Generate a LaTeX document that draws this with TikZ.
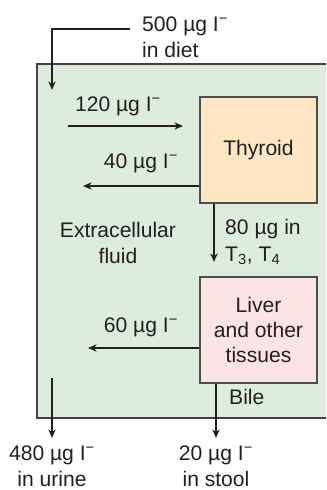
\documentclass[tikz,border=0pt]{standalone}
\usepackage{fontspec}
\setmainfont{Liberation Sans}
\usetikzlibrary{arrows.meta,positioning}
\definecolor{ink}{RGB}{35,31,32}
\definecolor{ecfgreen}{RGB}{221,237,221}
\definecolor{thyorange}{RGB}{253,230,193}
\definecolor{livpink}{RGB}{252,228,228}
\newcommand{\ugI}{µg I\textsuperscript{−}}
\tikzset{
  >={Stealth[length=2.6mm, width=2.2mm]},
  every node/.style={font=\fontsize{18}{22.5}\selectfont, text=ink},
  organ/.style={draw=ink!80, line width=1pt, minimum width=3.51cm, minimum height=3.18cm, align=center, inner sep=0pt},
  lab/.style={align=center, inner sep=0pt},
  labl/.style={align=left, anchor=west, inner sep=0pt},
  flow/.style={->, draw=ink, line width=0.9pt},
}

\begin{document}
\begin{tikzpicture}[x=0.03cm, y=-0.03cm]
\useasboundingbox (0,0) rectangle (326,490);

% ---------------------------------------------------------------- extracellular compartment
\fill[ecfgreen] (37,64) rectangle (326,418);
\draw[ink!85, line width=1.1pt] (326,64) -- (37,64) -- (37,418) -- (326,418);
\node[lab] (ecf) at (118,243) {Extracellular\\fluid};

% ---------------------------------------------------------------- organs
\node[organ, fill=thyorange] (thy) at (258.5,150) {Thyroid};
\node[organ, fill=livpink] (liv) at (258.5,330) {Liver\\[-1.5pt]and other\\[-1.5pt]tissues};

% ---------------------------------------------------------------- intake
\node[labl] (diet) at (142,37) {500 \ugI\\in diet};
\coordinate (dietin) at (52,90);
\draw[flow] (130,29) -| (dietin);

% ---------------------------------------------------------------- thyroid exchange
\node[lab] (l120) at (118,106) {120 \ugI};
\coordinate (s120) at (68,126);
\coordinate (e120) at (183,126);
\draw[flow] (s120) -- (e120);

\node[lab] (l40) at (141,163) {40 \ugI};
\coordinate (o40) at (83,186);
\draw[flow] (thy.west |- o40) -- (o40);

\coordinate (t80) at (214,262);
\draw[flow] (t80 |- thy.south) -- (t80);
\node[labl] (l80) at (225,242) {80 µg in\\T\textsubscript{3}, T\textsubscript{4}};

% ---------------------------------------------------------------- tissues
\node[lab] (l60) at (141,327) {60 \ugI};
\coordinate (o60) at (88,348);
\draw[flow] (liv.west |- o60) -- (o60);

% ---------------------------------------------------------------- losses
\coordinate (su) at (52,378);
\coordinate (eu) at (52,438);
\draw[flow] (su) -- (eu);
\node[lab] (urine) at (52,466) {480 \ugI\\in urine};

\coordinate (es) at (216,438);
\draw[flow] (es |- liv.south) -- (es);
\node[labl] (bile) at (229,397) {Bile};
\node[lab] (stool) at (216,466) {20 \ugI\\in stool};

\end{tikzpicture}
\end{document}
